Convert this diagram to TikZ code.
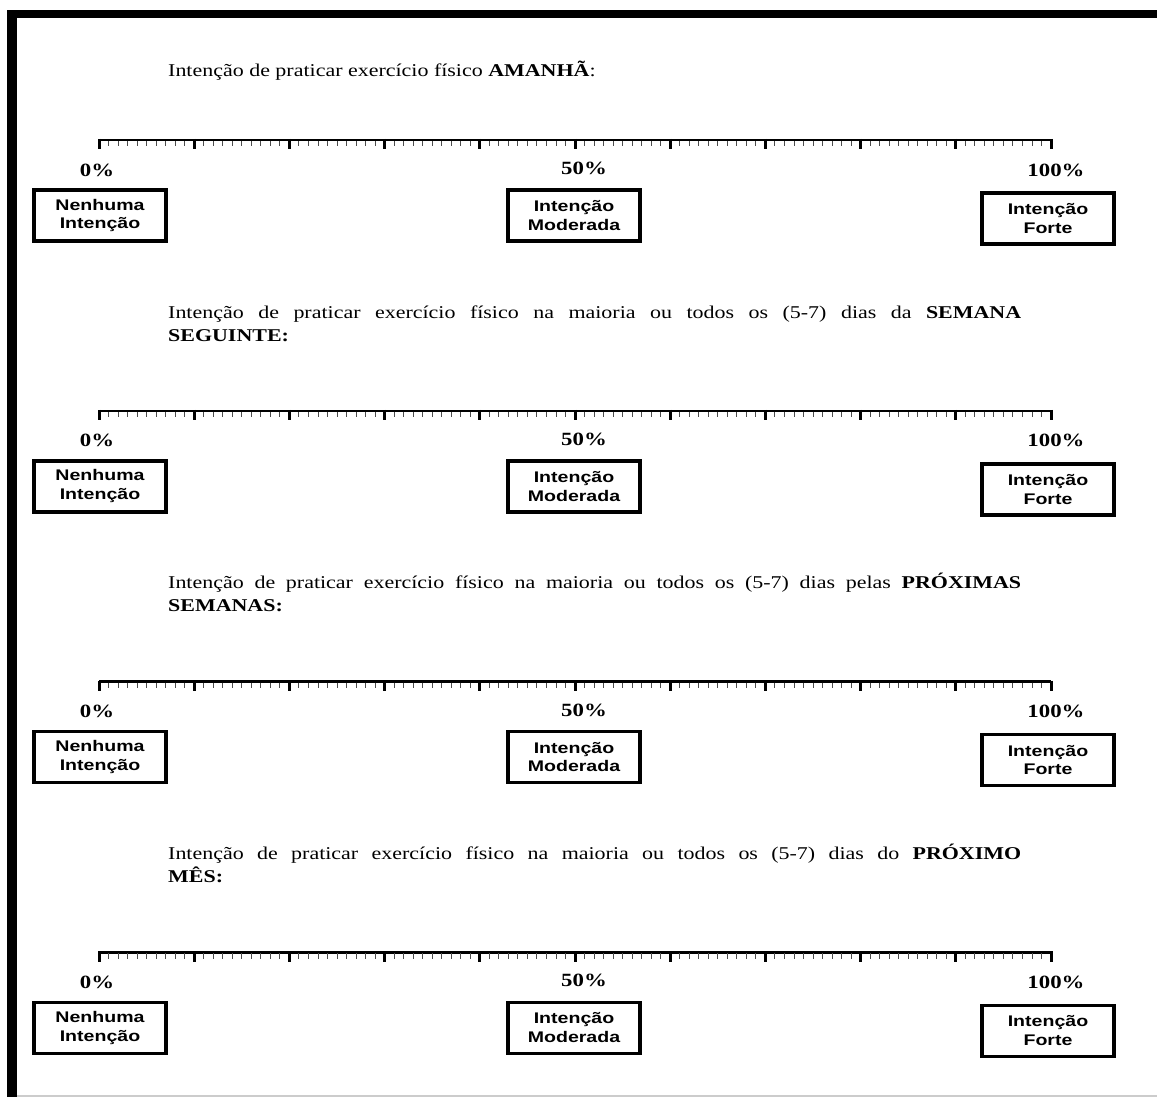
\documentclass[tikz,border=0pt]{standalone}
\usepackage{fontspec}
\setmainfont{Liberation Serif}[FakeStretch=1.22]
\newfontfamily\boxfont{Liberation Sans}[FakeStretch=1.27]
\begin{document}
\begin{tikzpicture}[x=1pt,y=-1pt,
  qtext/.style={anchor=base west, inner sep=0pt, font=\fontsize{18}{23}\selectfont},
  pct/.style={anchor=base, inner sep=0pt, font=\bfseries\fontsize{18.7}{23}\selectfont},
  scalebox/.style={draw, line width=3.5pt, minimum width=132pt, minimum height=51pt, inner sep=0pt, align=center,
    font=\boxfont\bfseries\fontsize{15.4}{18.8}\selectfont}]
\useasboundingbox (0,0) rectangle (1157,1097);
% frame
\fill[black] (7,10) rectangle (1157,18);
\fill[black] (7,10) rectangle (17,1097);
\draw[black!20, line width=1.5pt] (17,1096) -- (1157,1096);
% headings
\node[qtext] (q1) at (168,77) {Intenção de praticar exercício físico \textbf{AMANHÃ}:};
\node[qtext] (q2a) at (168,318) {\makebox[853pt][s]{Intenção de praticar exercício físico na maioria ou todos os (5-7) dias da \textbf{SEMANA}}};
\node[qtext] (q2b) at (168,341) {\textbf{SEGUINTE:}};
\node[qtext] (q3a) at (168,588.8) {\makebox[853pt][s]{Intenção de praticar exercício físico na maioria ou todos os (5-7) dias pelas \textbf{PRÓXIMAS}}};
\node[qtext] (q3b) at (168,611.8) {\textbf{SEMANAS:}};
\node[qtext] (q4a) at (168,859.5) {\makebox[853pt][s]{Intenção de praticar exercício físico na maioria ou todos os (5-7) dias do \textbf{PRÓXIMO}}};
\node[qtext] (q4b) at (168,882.5) {\textbf{MÊS:}};
% scales
\foreach \r/\dy in {1/0, 2/270.8, 3/541.5, 4/812.3}{
  \begin{scope}[yshift=-\dy pt]
    \draw[line width=2.5pt] (99,140) -- (1051,140);
    \foreach \i in {1,...,99}{
      \pgfmathtruncatemacro{\m}{mod(\i,10)}
      \ifnum\m>0
        \draw[line width=0.9pt, black!70] ({99+9.52*\i},141) -- ++(0,5.5);
      \fi
    }
    \foreach \i in {0,...,10}{
      \draw[line width=3pt] ({99+95.2*\i},139) -- ++(0,10.5);
    }
    \node[pct] (p0\r) at (97,176) {0\%};
    \node[pct] (p50\r) at (584,174.5) {50\%};
    \node[pct] (p100\r) at (1056,176) {100\%};
    \node[scalebox] (none\r) at (100,215.5) {Nenhuma\\Intenção};
    \node[scalebox] (mod\r) at (574,215.5) {Intenção\\Moderada};
    \node[scalebox] (strong\r) at (1048,218.5) {Intenção\\Forte};
  \end{scope}
}
\end{tikzpicture}
\end{document}
